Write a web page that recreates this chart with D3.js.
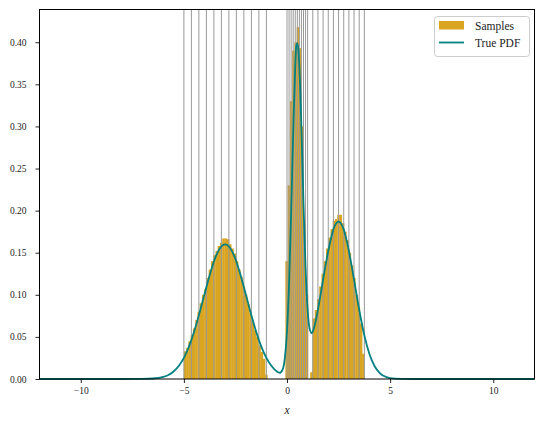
<!DOCTYPE html>
<meta charset="utf-8">
<head>
<script src="https://d3js.org/d3.v7.min.js"></script>
<style>
    body { margin: 0; background: white; }
    text { font-family: "Liberation Serif", "DejaVu Serif", serif; fill: #222; }
    .tick text { font-size: 9.5px; }
    .tick line { stroke: #222; }
    .domain { display: none; }
</style>
</head>
<body>
<svg id="chart" width="544" height="425"></svg>

<script>
    // histogram: 80 equal bins between the sample min and max
    var binStart = -5, binEnd = 3.75;
    var binHeights = [
      0.033, 0.037, 0.045, 0.052, 0.060, 0.070, 0.080, 0.090, 0.100, 0.107,
      0.120, 0.130, 0.140, 0.147, 0.152, 0.158, 0.162, 0.167, 0.167, 0.166,
      0.160, 0.155, 0.149, 0.140, 0.130, 0.121, 0.110, 0.100, 0.089, 0.078,
      0.068, 0.058, 0.050, 0.040, 0.032, 0.024, 0.005, 0, 0, 0,
      0, 0, 0, 0, 0, 0.140, 0.230, 0.330, 0.390, 0.400,
      0.418, 0.393, 0.300, 0.184, 0.100, 0, 0.008, 0.072, 0.082, 0.095,
      0.110, 0.125, 0.140, 0.155, 0.168, 0.178, 0.188, 0.190, 0.195, 0.195,
      0.185, 0.175, 0.165, 0.150, 0.135, 0.120, 0.100, 0.085, 0.066, 0.030
    ];

    // true pdf
    var pdfX = [-12, -8, -7, -6.5, -6, -5.75, -5.5, -5.25, -5, -4.75, -4.5, -4.25, -4, -3.75,
      -3.5, -3.25, -3, -2.75, -2.5, -2.25, -2, -1.75, -1.5, -1.25, -1, -0.75, -0.5, -0.35,
      -0.2, -0.1, 0, 0.1, 0.2, 0.3, 0.4, 0.45, 0.5, 0.55, 0.6, 0.7, 0.8, 0.9, 1.0, 1.1,
      1.2, 1.3, 1.4, 1.5, 1.75, 2.0, 2.25, 2.5, 2.75, 3.0, 3.25, 3.5, 3.75, 4.0, 4.25,
      4.5, 4.75, 5.0, 5.5, 6, 12];
    var pdfY = [0, 0, 0.0001, 0.0006, 0.0025, 0.0048, 0.0089, 0.0154, 0.025, 0.0388, 0.0565, 0.0777, 0.1008, 0.1233,
      0.1426, 0.1554, 0.160, 0.1554, 0.1426, 0.1233, 0.1008, 0.0777, 0.0565, 0.0388, 0.025, 0.0154, 0.0091, 0.0074,
      0.012, 0.026, 0.057, 0.113, 0.197, 0.292, 0.372, 0.396, 0.399, 0.392, 0.371, 0.298, 0.208, 0.132, 0.0825, 0.0594,
      0.0545, 0.0597, 0.070, 0.0823, 0.118, 0.152, 0.1777, 0.187, 0.1777, 0.152, 0.118, 0.0823, 0.0518, 0.0295, 0.0152,
      0.007, 0.0029, 0.0011, 0.0001, 0, 0];

    // grey vertical markers
    var knotsLeft = [-5, -4.636, -4.273, -3.909, -3.545, -3.182, -2.818, -2.455, -2.091, -1.727, -1.364, -1.0];
    var knotsMid = [0, 0.1, 0.2, 0.3, 0.4, 0.5, 0.6, 0.7, 0.8, 0.9, 1.0];
    var knotsRight = [1.25, 1.5, 1.75, 2.0, 2.25, 2.5, 2.75, 3.0, 3.25, 3.5, 3.75];

    var xTicks = [-10, -5, 0, 5, 10];
    var yTicks = [0, 0.05, 0.10, 0.15, 0.20, 0.25, 0.30, 0.35, 0.40];

    var svg = d3.select("#chart");
    var plotL = 39.5, plotR = 534.5, plotT = 9.5, plotB = 379;

    var x = d3.scaleLinear().domain([-12, 12]).range([plotL, plotR]);
    var y = d3.scaleLinear().domain([0, 0.4389]).range([plotB, plotT]);

    var binW = (binEnd - binStart) / binHeights.length;
    var bins = binHeights.map(function(h, i) {
      return { x0: binStart + i * binW, x1: binStart + (i + 1) * binW, h: h };
    });

    // bars
    svg.append("g")
      .selectAll("rect")
      .data(bins.filter(function(d) { return d.h > 0; }))
      .enter()
      .append("rect")
      .attr("x", function(d) { return x(d.x0); })
      .attr("width", function(d) { return x(d.x1) - x(d.x0) + 0.3; })
      .attr("y", function(d) { return y(d.h); })
      .attr("height", function(d) { return y(0) - y(d.h); })
      .attr("fill", "#DAA520");

    // knots
    var knots = knotsLeft.concat(knotsMid, knotsRight);
    svg.append("g")
      .selectAll("line")
      .data(knots)
      .enter()
      .append("line")
      .attr("x1", function(d) { return x(d); })
      .attr("x2", function(d) { return x(d); })
      .attr("y1", plotT)
      .attr("y2", plotB)
      .attr("stroke", "#999")
      .attr("stroke-width", 1);

    // pdf line
    var pts = pdfX.map(function(v, i) { return [v, pdfY[i]]; });
    var line = d3.line()
      .x(function(d) { return x(d[0]); })
      .y(function(d) { return y(d[1]); })
      .curve(d3.curveMonotoneX);
    svg.append("path")
      .datum(pts)
      .attr("d", line)
      .attr("fill", "none")
      .attr("stroke", "#008080")
      .attr("stroke-width", 1.8);

    // axes
    svg.append("g")
      .attr("transform", "translate(0," + plotB + ")")
      .call(d3.axisBottom(x).tickValues(xTicks).tickSize(4).tickPadding(4));
    svg.append("g")
      .attr("transform", "translate(" + plotL + ",0)")
      .call(d3.axisLeft(y).tickValues(yTicks).tickFormat(d3.format(".2f")).tickSize(4).tickPadding(9));

    svg.append("rect")
      .attr("x", plotL).attr("y", plotT)
      .attr("width", plotR - plotL).attr("height", plotB - plotT)
      .attr("fill", "none").attr("stroke", "black").attr("stroke-width", 1);

    svg.append("text")
      .attr("x", x(0)).attr("y", 414)
      .attr("text-anchor", "middle")
      .style("font-style", "italic")
      .style("font-size", "11.5px")
      .text("x");

    // legend
    var lg = svg.append("g");
    lg.append("rect")
      .attr("x", 434.5).attr("y", 16.5).attr("width", 95).attr("height", 40)
      .attr("rx", 3)
      .attr("fill", "white").attr("fill-opacity", 0.8)
      .attr("stroke", "#ccc");
    lg.append("rect")
      .attr("x", 439).attr("y", 21).attr("width", 25).attr("height", 8.5)
      .attr("fill", "#DAA520");
    lg.append("line")
      .attr("x1", 439).attr("x2", 464).attr("y1", 42.5).attr("y2", 42.5)
      .attr("stroke", "#008080").attr("stroke-width", 1.8);
    lg.append("text").attr("x", 475).attr("y", 29.5)
      .style("font-size", "11.5px").text("Samples");
    lg.append("text").attr("x", 475).attr("y", 46.5)
      .style("font-size", "11.5px").text("True PDF");
</script>
</body>
